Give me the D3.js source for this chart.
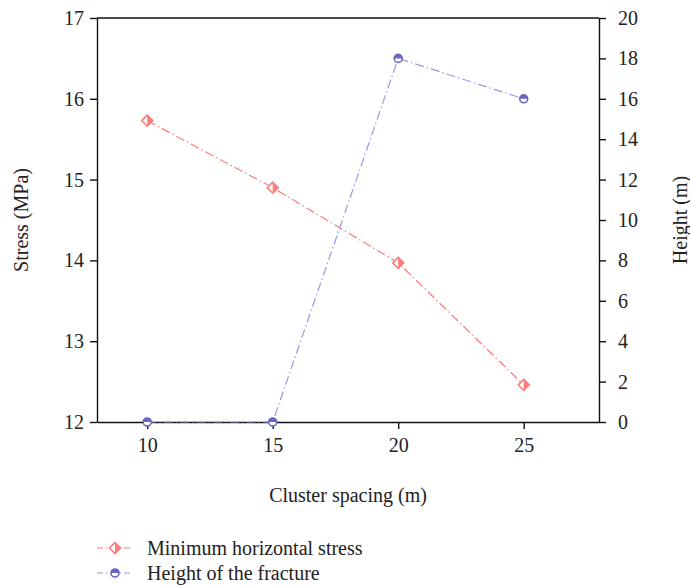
<!DOCTYPE html>
<html>
<head>
<meta charset="utf-8">
<script src="https://cdn.jsdelivr.net/npm/d3@7"></script>
<style>
  body { margin: 0; background: #fff; }
  text { font-family: "Liberation Serif", "DejaVu Serif", serif; fill: #222; }
</style>
</head>
<body>
<div class="chart"></div>
<script>
// Data
var spacing = [10, 15, 20, 25];
var stress = [15.73, 14.90, 13.97, 12.46];
var height = [0, 0, 18, 16];
var stressTicks = [12, 13, 14, 15, 16, 17];
var heightTicks = [0, 2, 4, 6, 8, 10, 12, 14, 16, 18, 20];
var xTicks = [10, 15, 20, 25];
var seriesNames = ["Minimum horizontal stress", "Height of the fracture"];

var svgWidth = 690;
var svgHeight = 587;
var margin = {top: 18, right: 91, bottom: 165, left: 97};
var w = svgWidth - margin.left - margin.right;
var h = svgHeight - margin.top - margin.bottom;

var red = "#ff7c7c";
var blue = "#6868c0";
var blueLine = "#9a9ae0";
var dash = "9,3,1.5,3";
var fontSize = "20px";

var svg = d3.select(".chart")
  .append("svg")
  .attr("width", svgWidth)
  .attr("height", svgHeight);

var g = svg.append("g")
  .attr("transform", "translate(" + margin.left + "," + margin.top + ")");

// Scales
var x = d3.scaleLinear().domain([8, 28]).range([0, w]);
var yL = d3.scaleLinear().domain([12, 17]).range([h, 0]);
var yR = d3.scaleLinear().domain([0, 20]).range([h, 0]);

// Axes
var fmt = d3.format("d");
var bottomAxis = d3.axisBottom(x).tickValues(xTicks).tickFormat(fmt).tickSize(7).tickSizeOuter(0).tickPadding(5);
var leftAxis = d3.axisLeft(yL).tickValues(stressTicks).tickFormat(fmt).tickSize(7).tickSizeOuter(0).tickPadding(6);
var rightAxis = d3.axisRight(yR).tickValues(heightTicks).tickFormat(fmt).tickSize(7).tickSizeOuter(0).tickPadding(12);

function styleAxis(sel) {
  sel.attr("font-size", null).attr("font-family", null);
  sel.selectAll("path, line").attr("stroke", "#111").attr("stroke-width", 1.4);
  sel.selectAll("text").style("font-size", fontSize).attr("fill", "#222");
}

g.append("g").attr("transform", "translate(0," + h + ")").call(bottomAxis).call(styleAxis)
  .selectAll("text").attr("dy", "0.9em");
g.append("g").call(leftAxis).call(styleAxis);
g.append("g").attr("transform", "translate(" + w + ",0)").call(rightAxis).call(styleAxis);

// top border
g.append("line")
  .attr("x1", 0).attr("x2", w).attr("y1", 0).attr("y2", 0)
  .attr("stroke", "#111").attr("stroke-width", 1.4);

// Axis titles
g.append("text")
  .attr("transform", "rotate(-90)")
  .attr("x", -h / 2).attr("y", -69)
  .attr("text-anchor", "middle")
  .style("font-size", fontSize)
  .text("Stress (MPa)");

g.append("text")
  .attr("transform", "translate(" + (w + 88) + "," + (h / 2) + ") rotate(-90)")
  .attr("text-anchor", "middle")
  .style("font-size", fontSize)
  .text("Height (m)");

g.append("text")
  .attr("x", w / 2 + 0).attr("y", h + 80)
  .attr("text-anchor", "middle")
  .style("font-size", fontSize)
  .text("Cluster spacing (m)");

// Lines
var stressLine = d3.line()
  .x(function(d, i) { return x(spacing[i]); })
  .y(function(d) { return yL(d); });
var heightLine = d3.line()
  .x(function(d, i) { return x(spacing[i]); })
  .y(function(d) { return yR(d); });

g.append("path").datum(stress)
  .attr("d", stressLine)
  .attr("fill", "none").attr("stroke", red).attr("stroke-width", 1.2)
  .attr("stroke-dasharray", dash);

g.append("path").datum(height)
  .attr("d", heightLine)
  .attr("fill", "none").attr("stroke", blueLine).attr("stroke-width", 1.2)
  .attr("stroke-dasharray", dash);

// Markers: half-filled diamond and half-filled circle
function diamond(sel, cx, cy) {
  var s = 5.5;
  var m = sel.append("g").attr("transform", "translate(" + cx + "," + cy + ")");
  m.append("path")
    .attr("d", "M0," + (-s) + "L" + s + ",0L0," + s + "L" + (-s) + ",0Z")
    .attr("fill", "#fff");
  m.append("path")
    .attr("d", "M0," + (-s) + "L" + s + ",0L0," + s + "Z")
    .attr("fill", red);
  m.append("path")
    .attr("d", "M0," + (-s) + "L" + s + ",0L0," + s + "L" + (-s) + ",0Z")
    .attr("fill", "none").attr("stroke", red).attr("stroke-width", 1.6);
}

function circle(sel, cx, cy) {
  var r = 4;
  var m = sel.append("g").attr("transform", "translate(" + cx + "," + cy + ")");
  m.append("circle").attr("r", r).attr("fill", "#fff")
    .attr("stroke", blue).attr("stroke-width", 1.6);
  m.append("path")
    .attr("d", "M" + (-r) + ",0A" + r + "," + r + " 0 0 1 " + r + ",0Z")
    .attr("fill", blue);
}

stress.forEach(function(d, i) { diamond(g, x(spacing[i]), yL(d)); });
height.forEach(function(d, i) { circle(g, x(spacing[i]), yR(d)); });

// Legend
var legend = svg.append("g").attr("transform", "translate(97,548)");
var legendItems = [
  {name: seriesNames[0], color: red, marker: diamond},
  {name: seriesNames[1], color: blueLine, marker: circle}
];
legendItems.forEach(function(item, i) {
  var row = legend.append("g").attr("transform", "translate(0," + (i * 25) + ")");
  row.append("line")
    .attr("x1", 0).attr("x2", 36).attr("y1", 0).attr("y2", 0)
    .attr("stroke", item.color).attr("stroke-width", 1.2)
    .attr("stroke-dasharray", "6,3,1.5,3");
  item.marker(row, 18, 0);
  row.append("text")
    .attr("x", 50).attr("y", 0).attr("dy", "0.35em")
    .style("font-size", fontSize)
    .text(item.name);
});
</script>
</body>
</html>
